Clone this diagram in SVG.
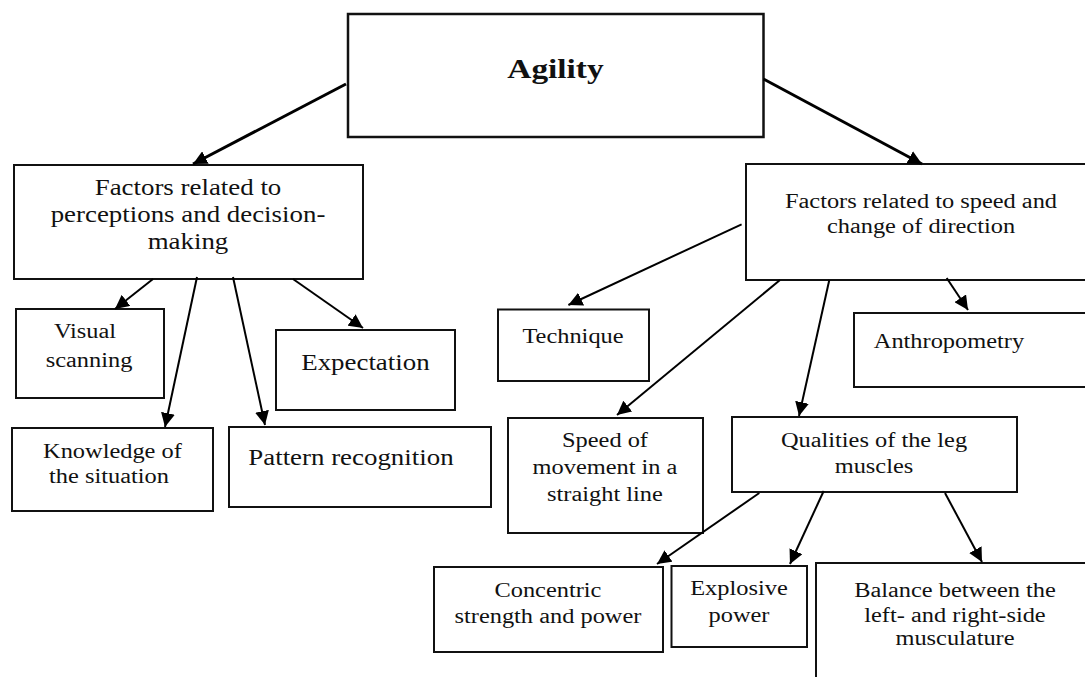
<svg xmlns="http://www.w3.org/2000/svg" width="1085" height="677" viewBox="0 0 1085 677">
<style>
.box{fill:#fff;stroke:#111;stroke-width:2}
.top{stroke-width:2.5}
.t{font-family:"Liberation Serif","Times New Roman",serif;font-size:20.5px;fill:#111;text-anchor:middle;transform-box:fill-box;transform-origin:center;transform:scaleX(1.19)}
.lg{font-size:22.6px}
.ag{font-size:28px;font-weight:bold}
.c{stroke:#000;stroke-width:2;fill:none;marker-end:url(#ah)}
.c3{stroke-width:3}
</style>
<defs>
<marker id="ah" markerUnits="userSpaceOnUse" markerWidth="16" markerHeight="14" refX="14" refY="7" orient="auto"><path d="M0,0 L14,7 L0,14 Z" fill="#000"/></marker>
</defs>
<rect width="1085" height="677" fill="#fff"/>
<g id="agility"><rect class="box top" x="348" y="14" width="415.5" height="123"/><text class="t ag" x="555.5" y="78">Agility</text></g>
<g id="perception"><rect class="box" x="14" y="165" width="349" height="114"/><text class="t lg" x="188" y="195">Factors related to<tspan x="188" y="222">perceptions and decision-</tspan><tspan x="188" y="249">making</tspan></text></g>
<g id="speed-cod"><rect class="box" x="746" y="164" width="360" height="116"/><text class="t" x="921" y="208">Factors related to speed and<tspan x="921" y="233">change of direction</tspan></text></g>
<g id="visual"><rect class="box" x="16" y="309" width="148" height="89"/><text class="t" x="85" y="338">Visual</text><text class="t" x="89" y="367">scanning</text></g>
<g id="knowledge"><rect class="box" x="12" y="428" width="201" height="83"/><text class="t" x="112.5" y="458">Knowledge of</text><text class="t" x="109" y="483">the situation</text></g>
<g id="pattern"><rect class="box" x="229" y="427" width="262" height="80"/><text class="t lg" x="351" y="465">Pattern recognition</text></g>
<g id="expectation"><rect class="box" x="276" y="330" width="179" height="80"/><text class="t lg" x="365.5" y="370">Expectation</text></g>
<g id="technique"><rect class="box" x="498" y="309.5" width="151" height="71.5"/><text class="t" x="573" y="343">Technique</text></g>
<g id="anthropometry"><rect class="box" x="854" y="313" width="250" height="74"/><text class="t" x="949" y="348">Anthropometry</text></g>
<g id="straight-speed"><rect class="box" x="508" y="418" width="195" height="115"/><text class="t" x="605" y="447">Speed of<tspan x="605" y="474">movement in a</tspan><tspan x="605" y="501">straight line</tspan></text></g>
<g id="leg-muscles"><rect class="box" x="732" y="417" width="285" height="75"/><text class="t" x="874" y="447">Qualities of the leg<tspan x="874" y="473">muscles</tspan></text></g>
<g id="concentric"><rect class="box" x="434" y="567" width="229" height="85"/><text class="t" x="548" y="597">Concentric<tspan x="548" y="623">strength and power</tspan></text></g>
<g id="explosive"><rect class="box" x="671.5" y="566" width="135.5" height="81"/><text class="t" x="739" y="595">Explosive<tspan x="739" y="622">power</tspan></text></g>
<g id="balance"><rect class="box" x="816" y="563" width="290" height="130"/><text class="t" x="955" y="597">Balance between the<tspan x="955" y="622">left- and right-side</tspan><tspan x="955" y="645">musculature</tspan></text></g>
<g id="connectors">
<line class="c c3" x1="346" y1="84" x2="193" y2="164"/>
<line class="c c3" x1="763.5" y1="79" x2="922" y2="164"/>
<line class="c" x1="153" y1="279" x2="115" y2="309"/>
<line class="c" x1="197" y1="277" x2="165" y2="427"/>
<line class="c" x1="233" y1="277" x2="265" y2="425"/>
<line class="c" x1="293" y1="279" x2="363" y2="328"/>
<line class="c" x1="741.6" y1="224.3" x2="568.4" y2="305"/>
<line class="c" x1="780" y1="280" x2="617" y2="415"/>
<line class="c" x1="829.3" y1="280" x2="799" y2="416"/>
<line class="c" x1="946.7" y1="278" x2="968" y2="310"/>
<line class="c" x1="759.3" y1="493" x2="657" y2="564"/>
<line class="c" x1="823.7" y1="491" x2="790" y2="564"/>
<line class="c" x1="945" y1="493" x2="982" y2="562"/>
</g>
</svg>
